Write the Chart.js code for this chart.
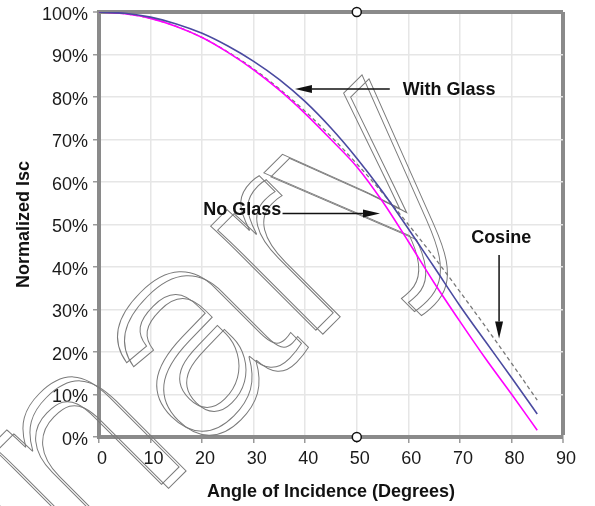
<!DOCTYPE html>
<html>
<head>
<meta charset="utf-8">
<script src="https://cdn.jsdelivr.net/npm/chart.js@4.4.1/dist/chart.umd.min.js"></script>
<style>
  html, body { margin: 0; padding: 0; background: #fff; }
  #wrap { width: 595px; height: 506px; position: relative; }
</style>
</head>
<body>
<div id="wrap"><canvas id="chart"></canvas></div>
<script>
// Angle of incidence (degrees) and normalized Isc (%)
const angles = [0, 5, 10, 15, 20, 25, 30, 35, 40, 45, 50, 55, 60, 65, 70, 75, 80, 85];
const cosine = [100, 99.6, 98.5, 96.6, 94.0, 90.6, 86.6, 81.9, 76.6, 70.7, 64.3, 57.4, 50.0, 42.3, 34.2, 25.9, 17.4, 8.7];
const withGlass = [100, 99.7, 98.8, 97.2, 95.0, 92.0, 88.4, 84.1, 78.9, 72.7, 65.6, 57.7, 49.0, 40.0, 30.9, 22.4, 14.0, 5.4];
const noGlass = [100, 99.6, 98.5, 96.6, 94.0, 90.5, 86.4, 81.6, 76.1, 70.0, 63.6, 55.4, 46.0, 36.3, 27.2, 18.4, 10.1, 1.6];

// cursor handles at the top and bottom of the plot
const handleX = [50, 50];
const handleY = [100, 0];

const xTicks = [0, 10, 20, 30, 40, 50, 60, 70, 80, 90];
const yTicks = [0, 10, 20, 30, 40, 50, 60, 70, 80, 90, 100];

// callouts: text anchor and arrow tail/tip, in data units
const callouts = [
  { text: 'With Glass', tx: 67.9, ty: 81.7, from: [56.4, 81.9], to: [38.0, 81.9] },
  { text: 'No Glass', tx: 27.8, ty: 53.3, from: [35.6, 52.6], to: [54.5, 52.6] },
  { text: 'Cosine', tx: 78.0, ty: 46.7, from: [77.6, 42.8], to: [77.6, 23.2] }
];

const FONT = "'Liberation Sans', Arial, sans-serif";
const FRAME = '#8a8a8a';

const toPoints = (ys) => angles.map((a, i) => ({ x: a, y: ys[i] }));

// big outlined watermark behind the curves
const watermark = {
  id: 'watermark',
  beforeDatasetsDraw(chart) {
    const ctx = chart.ctx;
    ctx.save();
    ctx.font = '280px ' + FONT;
    ctx.textAlign = 'right';
    ctx.textBaseline = 'alphabetic';
    ctx.lineWidth = 1;
    ctx.strokeStyle = '#7a7a7a';
    [[0, 0], [7, 4]].forEach(([dx, dy]) => {
      ctx.save();
      ctx.translate(467 + dx, 179 + dy);
      ctx.rotate(-45 * Math.PI / 180);
      ctx.strokeText('Preliminary', 0, 0);
      ctx.restore();
    });
    ctx.restore();
  }
};

function arrow(ctx, x1, y1, x2, y2) {
  const ang = Math.atan2(y2 - y1, x2 - x1);
  const len = 17, half = 4;
  ctx.beginPath();
  ctx.moveTo(x1, y1);
  ctx.lineTo(x2 - Math.cos(ang) * len, y2 - Math.sin(ang) * len);
  ctx.stroke();
  ctx.beginPath();
  ctx.moveTo(x2, y2);
  ctx.lineTo(x2 - Math.cos(ang) * len - Math.sin(ang) * half, y2 - Math.sin(ang) * len + Math.cos(ang) * half);
  ctx.lineTo(x2 - Math.cos(ang) * len + Math.sin(ang) * half, y2 - Math.sin(ang) * len - Math.cos(ang) * half);
  ctx.closePath();
  ctx.fill();
}

const calloutPlugin = {
  id: 'callouts',
  afterDatasetsDraw(chart) {
    const ctx = chart.ctx;
    const sx = chart.scales.x, sy = chart.scales.y;
    ctx.save();
    ctx.strokeStyle = '#111';
    ctx.fillStyle = '#111';
    ctx.lineWidth = 1.5;
    callouts.forEach(c => {
      arrow(ctx, sx.getPixelForValue(c.from[0]), sy.getPixelForValue(c.from[1]),
        sx.getPixelForValue(c.to[0]), sy.getPixelForValue(c.to[1]));
      ctx.font = 'bold 18px ' + FONT;
      ctx.textAlign = 'center';
      ctx.textBaseline = 'middle';
      ctx.fillText(c.text, sx.getPixelForValue(c.tx), sy.getPixelForValue(c.ty));
    });
    ctx.restore();
  }
};

new Chart(document.getElementById('chart'), {
  type: 'scatter',
  data: {
    datasets: [
      {
        label: 'No Glass',
        data: toPoints(noGlass),
        showLine: true,
        borderColor: '#ff00ff',
        borderWidth: 1.6,
        pointRadius: 0,
        cubicInterpolationMode: 'monotone',
        order: 2
      },
      {
        label: 'With Glass',
        data: toPoints(withGlass),
        showLine: true,
        borderColor: '#4a4aa0',
        borderWidth: 1.6,
        pointRadius: 0,
        cubicInterpolationMode: 'monotone',
        order: 1
      },
      {
        label: 'Cosine',
        data: toPoints(cosine),
        showLine: true,
        borderColor: '#777',
        borderWidth: 1.3,
        borderDash: [4, 3],
        pointRadius: 0,
        cubicInterpolationMode: 'monotone',
        order: 3
      },
      {
        label: 'handles',
        data: handleX.map((x, i) => ({ x, y: handleY[i] })),
        pointRadius: 4.5,
        pointBackgroundColor: '#fff',
        pointBorderColor: '#111',
        pointBorderWidth: 1.5,
        clip: false,
        order: 0
      }
    ]
  },
  options: {
    responsive: true,
    maintainAspectRatio: false,
    animation: false,
    layout: { padding: { top: 12, right: 32, left: 0, bottom: 0 } },
    plugins: {
      legend: { display: false },
      tooltip: { enabled: false }
    },
    scales: {
      x: {
        type: 'linear',
        min: 0,
        max: 90,
        afterBuildTicks: (s) => { s.ticks = xTicks.map(v => ({ value: v })); },
        afterFit: (s) => { s.height = 69; },
        ticks: {
          font: { family: FONT, size: 18 },
          color: '#1a1a1a',
          padding: 5,
          labelOffset: 3,
          maxRotation: 0
        },
        grid: {
          color: (c) => c.tick && c.tick.value === 90 ? FRAME : '#e6e6e6',
          lineWidth: (c) => c.tick && c.tick.value === 90 ? 4 : 1.5,
          tickColor: '#9a9a9a',
          tickWidth: 1.5,
          tickLength: 6
        },
        border: { display: true, color: FRAME, width: 4 },
        title: {
          display: true,
          text: 'Angle of Incidence (Degrees)',
          font: { family: FONT, size: 18, weight: 'bold' },
          color: '#111',
          padding: { top: 0, bottom: 3 }
        }
      },
      y: {
        min: 0,
        max: 100,
        afterBuildTicks: (s) => { s.ticks = yTicks.map(v => ({ value: v })); },
        afterFit: (s) => { s.width = 99; s.paddingTop = 0; s.paddingBottom = 0; },
        ticks: {
          font: { family: FONT, size: 18 },
          color: '#1a1a1a',
          padding: 5,
          labelOffset: 3,
          callback: (v) => v + '%'
        },
        grid: {
          color: (c) => c.tick && c.tick.value === 100 ? FRAME : '#e6e6e6',
          lineWidth: (c) => c.tick && c.tick.value === 100 ? 4 : 1.5,
          tickColor: '#9a9a9a',
          tickWidth: 1.5,
          tickLength: 6
        },
        border: { display: true, color: FRAME, width: 4 },
        title: {
          display: true,
          text: 'Normalized Isc',
          font: { family: FONT, size: 18, weight: 'bold' },
          color: '#111',
          padding: { top: 13, bottom: 0 }
        }
      }
    }
  },
  plugins: [watermark, calloutPlugin]
});
</script>
</body>
</html>
